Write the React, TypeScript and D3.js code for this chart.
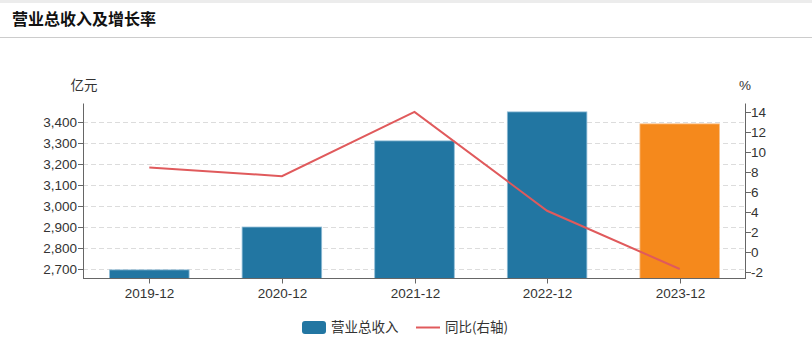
import React from "react";
import * as d3 from "d3";

const categories = ["2019-12", "2020-12", "2021-12", "2022-12", "2023-12"];
const revenue = [2697, 2901, 3311, 3449, 3392];
const growth = [8.45, 7.6, 14.0, 4.15, -1.65];
const leftTicks = [2700, 2800, 2900, 3000, 3100, 3200, 3300, 3400];
const rightTicks = [-2, 0, 2, 4, 6, 8, 10, 12, 14];

const W = 812;
const H = 358;
const m = { left: 83, right: 746, top: 103.5, bottom: 278.5 };
const FONT = "'Liberation Sans', Arial, 'Noto Sans CJK SC', sans-serif";
const CJK = "'Noto Sans CJK SC', sans-serif";
const FS = 13.5;

export default function App() {
  const x = d3.scaleBand<string>().domain(categories).range([m.left, m.right]).paddingInner(0.4).paddingOuter(0.2);
  const xc = d3.scaleBand<string>().domain(categories).range([m.left, m.right]);
  const yL = d3.scaleLinear().domain([2656, 3489]).range([m.bottom, m.top]);
  const yR = d3.scaleLinear().domain([-2.6, 14.84]).range([m.bottom, m.top]);
  const fmt = d3.format(",");
  const line = d3
    .line<number>()
    .x((_, i) => (xc(categories[i]) as number) + xc.bandwidth() / 2)
    .y((d) => yR(d));

  return (
    <svg width={W} height={H} style={{ position: "absolute", left: 0, top: 0, background: "#fff" }} fontFamily={FONT}>
      <rect x={0} y={0} width={W} height={H} fill="#fff" />
      <rect x={0} y={0} width={W} height={3} fill="#ececec" />
      <text x={12} y={24.5} fontSize={16} fontWeight="bold" fill="#111" fontFamily={CJK}>
        营业总收入及增长率
      </text>
      <line x1={0} x2={W} y1={37.5} y2={37.5} stroke="#ccc" strokeWidth={1} />

      {/* grid */}
      {leftTicks.map((t) => (
        <line key={"g" + t} x1={m.left} x2={m.right} y1={Math.round(yL(t)) + 0.5} y2={Math.round(yL(t)) + 0.5} stroke="#dcdcdc" strokeDasharray="5,3" />
      ))}

      {/* bars */}
      {categories.map((c, i) => (
        <rect
          key={c}
          x={x(c)}
          y={yL(revenue[i])}
          width={x.bandwidth()}
          height={m.bottom - yL(revenue[i])}
          fill={i === categories.length - 1 ? "#f5891c" : "#2276a2"}
          stroke={i === categories.length - 1 ? "#f9c089" : "#8fbcd6"}
          strokeWidth={0.8}
        />
      ))}

      {/* line */}
      <path d={line(growth) as string} fill="none" stroke="#e05a5c" strokeWidth={2} />

      {/* left axis */}
      <line x1={m.left + 0.5} x2={m.left + 0.5} y1={m.top} y2={m.bottom} stroke="#666" />
      {leftTicks.map((t) => (
        <g key={"l" + t}>
          <line x1={m.left - 5} x2={m.left} y1={Math.round(yL(t)) + 0.5} y2={Math.round(yL(t)) + 0.5} stroke="#666" />
          <text x={m.left - 6} y={yL(t)} dy="0.35em" textAnchor="end" fontSize={FS} fill="#333">
            {fmt(t)}
          </text>
        </g>
      ))}
      <text x={84} y={90} textAnchor="middle" fontSize={FS} fill="#333" fontFamily={CJK}>
        亿元
      </text>

      {/* right axis */}
      <line x1={m.right - 0.5} x2={m.right - 0.5} y1={m.top} y2={m.bottom} stroke="#666" />
      {rightTicks.map((t) => (
        <g key={"r" + t}>
          <line x1={m.right} x2={m.right + 5} y1={Math.round(yR(t)) + 0.5} y2={Math.round(yR(t)) + 0.5} stroke="#666" />
          <text x={m.right + 5} y={yR(t)} dy="0.35em" textAnchor="start" fontSize={FS} fill="#333">
            {t}
          </text>
        </g>
      ))}
      <text x={745} y={90} textAnchor="middle" fontSize={FS} fill="#333">
        %
      </text>

      {/* bottom axis */}
      <line x1={m.left} x2={m.right} y1={m.bottom} y2={m.bottom} stroke="#666" />
      {categories.map((c) => {
        const cx = Math.round((xc(c) as number) + xc.bandwidth() / 2) + 0.5;
        return (
          <g key={"x" + c}>
            <line x1={cx} x2={cx} y1={m.bottom} y2={m.bottom + 5} stroke="#666" />
            <text x={cx} y={m.bottom + 19.5} textAnchor="middle" fontSize={FS} fill="#333">
              {c}
            </text>
          </g>
        );
      })}

      {/* legend */}
      <rect x={302} y={321} width={24} height={13} rx={3} fill="#2276a2" />
      <text x={331} y={327.5} dy="0.35em" fontSize={FS} fill="#333" fontFamily={CJK}>
        营业总收入
      </text>
      <line x1={416} x2={440} y1={327.5} y2={327.5} stroke="#e05a5c" strokeWidth={2} />
      <text x={445} y={327.5} dy="0.35em" fontSize={FS} fill="#333" fontFamily={CJK}>
        同比(右轴)
      </text>
    </svg>
  );
}
